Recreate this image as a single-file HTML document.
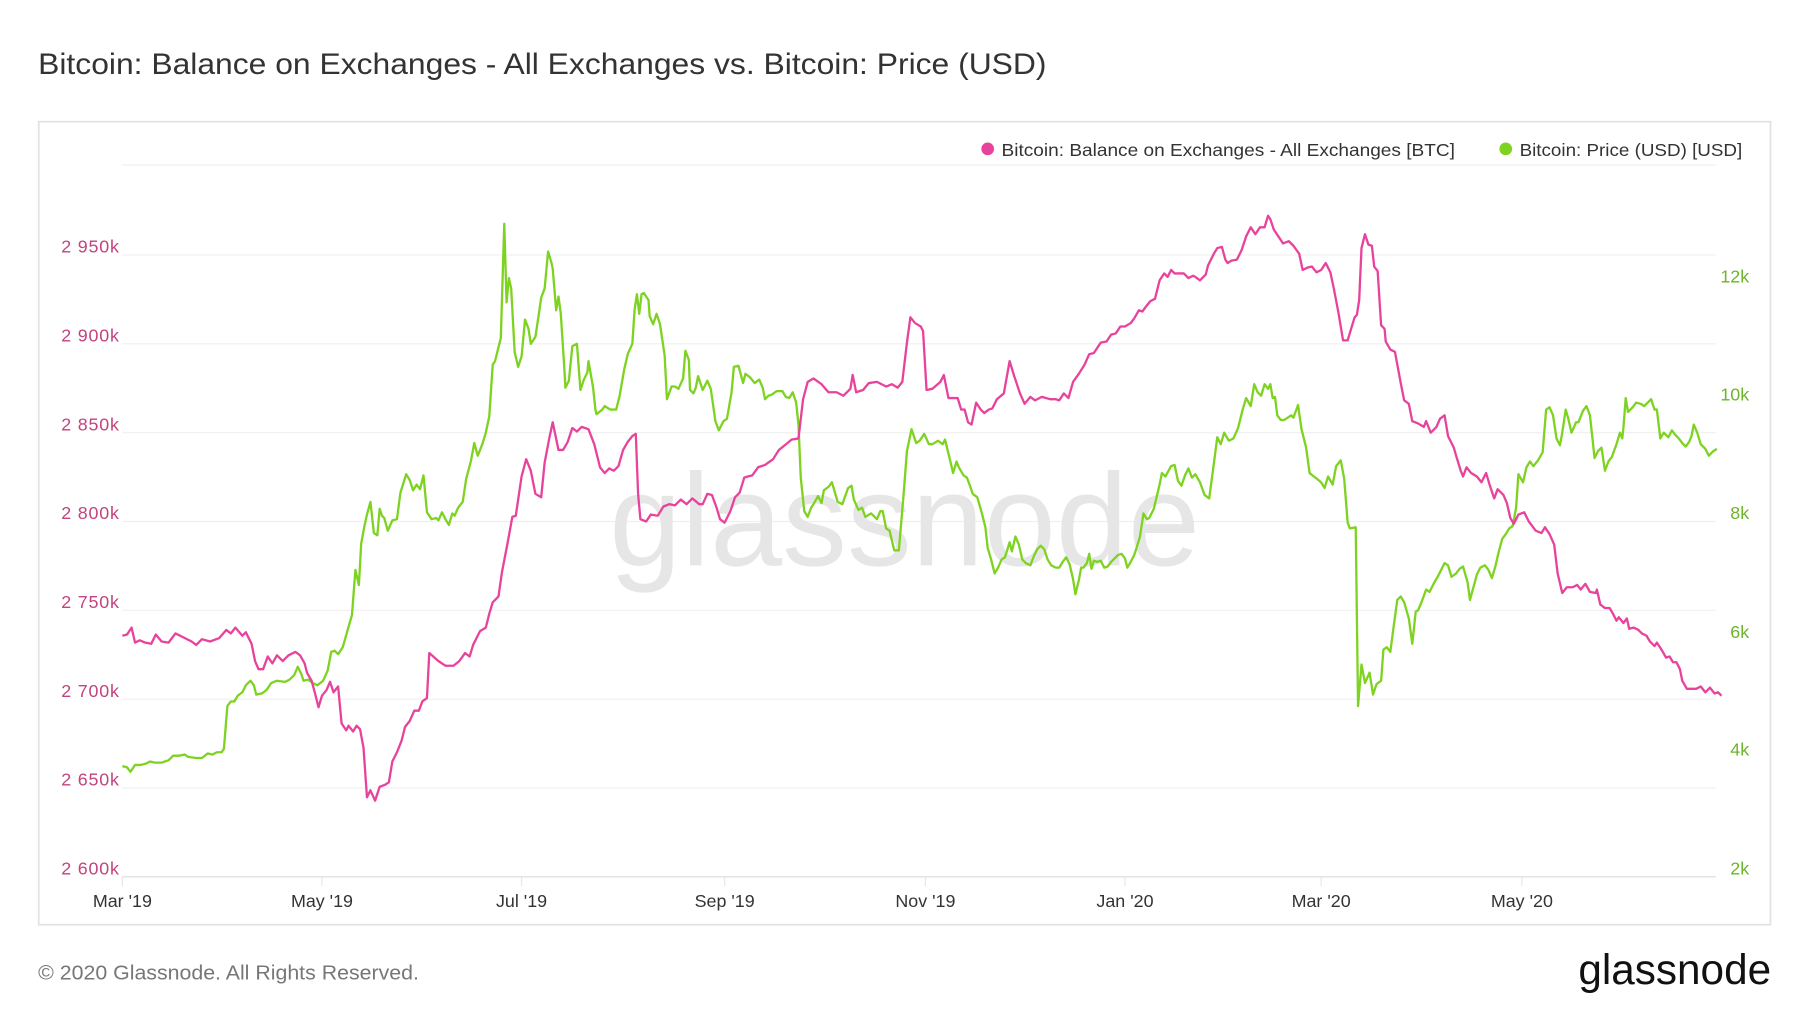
<!DOCTYPE html>
<html><head><meta charset="utf-8"><style>
html,body{margin:0;padding:0;background:#fff;}
svg{display:block;}
text{font-family:"Liberation Sans",sans-serif;}
</style></head><body>
<svg width="1800" height="1013" viewBox="0 0 1560 878" xmlns="http://www.w3.org/2000/svg">
<rect width="1560" height="878" fill="#fff"/>
<text x="33" y="64" font-size="26" fill="#333" textLength="874" lengthAdjust="spacingAndGlyphs">Bitcoin: Balance on Exchanges - All Exchanges vs. Bitcoin: Price (USD)</text>
<rect x="33.5" y="105.5" width="1501" height="696" fill="#fff" stroke="#e2e2e2" stroke-width="1.5"/>
<g stroke="#efefef" stroke-width="1">
<line x1="106" y1="143" x2="1487" y2="143"/>
<line x1="106" y1="221" x2="1487" y2="221"/>
<line x1="106" y1="298" x2="1487" y2="298"/>
<line x1="106" y1="375" x2="1487" y2="375"/>
<line x1="106" y1="452" x2="1487" y2="452"/>
<line x1="106" y1="529" x2="1487" y2="529"/>
<line x1="106" y1="606" x2="1487" y2="606"/>
<line x1="106" y1="683" x2="1487" y2="683"/>
</g>
<line x1="106" y1="760" x2="1487" y2="760" stroke="#e0e0e0" stroke-width="1.2"/>
<g stroke="#e6e6e6" stroke-width="1">
<line x1="106" y1="760" x2="106" y2="768"/><line x1="279" y1="760" x2="279" y2="768"/>
<line x1="452" y1="760" x2="452" y2="768"/><line x1="628" y1="760" x2="628" y2="768"/>
<line x1="802" y1="760" x2="802" y2="768"/><line x1="975" y1="760" x2="975" y2="768"/>
<line x1="1145" y1="760" x2="1145" y2="768"/><line x1="1319" y1="760" x2="1319" y2="768"/>
</g>
<text x="528" y="490" font-size="114" fill="#e6e6e6" textLength="512" lengthAdjust="spacingAndGlyphs">glassnode</text>
<g font-size="15.5" fill="#c2437f">
<text x="53" y="219" textLength="50">2 950k</text><text x="53" y="296" textLength="50">2 900k</text><text x="53" y="373" textLength="50">2 850k</text>
<text x="53" y="450" textLength="50">2 800k</text><text x="53" y="527" textLength="50">2 750k</text><text x="53" y="604" textLength="50">2 700k</text>
<text x="53" y="681" textLength="50">2 650k</text><text x="53" y="758" textLength="50">2 600k</text>
</g>
<g font-size="15.5" fill="#6db52a" text-anchor="end">
<text x="1516" y="245">12k</text><text x="1516" y="347">10k</text><text x="1516" y="450">8k</text>
<text x="1516" y="553">6k</text><text x="1516" y="655">4k</text><text x="1516" y="758">2k</text>
</g>
<g font-size="15.5" fill="#333" text-anchor="middle">
<text x="106" y="786">Mar '19</text><text x="279" y="786">May '19</text><text x="452" y="786">Jul '19</text>
<text x="628" y="786">Sep '19</text><text x="802" y="786">Nov '19</text><text x="975" y="786">Jan '20</text>
<text x="1145" y="786">Mar '20</text><text x="1319" y="786">May '20</text>
</g>
<circle cx="856" cy="129" r="5.5" fill="#e8439c"/>
<text x="868" y="135" font-size="15.5" fill="#333" textLength="393" lengthAdjust="spacingAndGlyphs">Bitcoin: Balance on Exchanges - All Exchanges [BTC]</text>
<circle cx="1305" cy="129" r="5.5" fill="#7ed321"/>
<text x="1317" y="135" font-size="15.5" fill="#333" textLength="193" lengthAdjust="spacingAndGlyphs">Bitcoin: Price (USD) [USD]</text>
<polyline fill="none" stroke="#7ed321" stroke-width="2" stroke-linejoin="round" points="106,664 110,665 113,669 117,663 122,663 126,662 130,660 134,661 140,661 146,659 150,655 155,655 160,654 163,656 170,657 175,657 180,653 184,654 188,652 192,652 194,649 197,612 200,608 203,608 206,603 210,600 213,594 217,590 220,594 222,602 227,601 231,598 235,592 240,590 247,591 251,589 255,585 258,578 261,584 263,590 267,589 271,592 275,594 280,590 284,581 287,565 290,564 293,567 297,561 301,547 305,533 308,494 311,507 313,471 316,455 318,446 321,435 324,462 327,464 329,441 331,447 333,449 336,460 340,451 344,450 347,427 352,411 355,416 358,425 361,420 364,424 367,412 370,444 374,450 378,449 380,451 383,444 386,450 389,455 392,445 394,447 397,440 401,435 404,415 408,400 411,384 414,395 418,385 421,375 424,361 427,316 429,313 431,305 434,293 437,194 439,262 441,241 443,250 446,305 449,318 452,309 455,277 458,285 460,298 464,292 467,272 469,258 472,250 475,218 478,228 479,233 482,269 484,257 486,272 489,318 490,336 493,330 496,300 500,298 503,338 506,329 509,323 510,313 514,336 516,355 517,359 522,355 524,352 529,355 534,355 537,343 541,320 544,307 548,298 550,268 552,255 554,272 556,255 558,254 562,260 563,274 566,281 569,272 572,281 576,308 578,346 582,335 585,335 588,337 592,328 594,304 597,312 598,338 601,341 603,336 605,326 609,338 613,330 616,337 617,344 620,365 623,373 627,365 630,363 634,340 636,318 640,317 644,332 646,324 650,327 654,332 658,329 661,336 663,346 666,343 669,342 673,339 678,339 681,344 684,345 687,340 690,349 692,368 694,414 697,443 700,448 703,440 705,437 709,430 712,436 714,425 718,422 721,418 726,435 730,437 735,423 738,421 740,433 744,442 747,440 750,448 755,445 760,450 763,443 765,443 768,458 771,460 775,477 779,477 783,430 786,391 790,372 794,384 797,382 801,376 805,385 808,385 813,382 817,385 819,381 822,393 826,410 829,400 831,405 835,412 838,414 841,422 843,428 847,431 849,438 851,445 854,457 856,475 859,485 862,497 865,492 868,485 871,483 875,470 877,478 880,465 883,472 886,485 889,488 893,490 896,482 899,476 902,473 905,476 908,485 911,490 915,492 918,492 921,487 924,483 927,489 930,502 932,515 935,503 937,492 939,492 942,488 944,480 946,493 948,486 951,487 954,486 957,492 960,491 963,487 966,484 969,481 972,480 975,484 977,492 980,487 983,481 985,475 988,465 991,445 994,450 996,449 1000,441 1005,420 1007,410 1010,413 1015,404 1018,403 1021,417 1024,421 1027,412 1030,406 1033,414 1036,411 1040,418 1044,429 1048,432 1052,402 1055,379 1058,385 1061,375 1065,382 1069,380 1073,371 1077,355 1080,345 1084,352 1087,333 1090,340 1093,343 1096,333 1099,337 1101,333 1103,345 1105,344 1107,360 1110,364 1113,364 1116,362 1119,360 1121,362 1125,351 1128,372 1132,388 1135,410 1140,414 1145,418 1148,423 1151,413 1155,420 1158,404 1162,399 1165,415 1168,453 1170,458 1175,457 1177,612 1180,576 1183,592 1187,583 1190,602 1193,593 1197,590 1199,563 1202,561 1205,565 1208,542 1211,520 1214,517 1217,522 1221,536 1224,558 1227,530 1229,529 1232,522 1236,511 1239,513 1243,505 1246,500 1249,494 1252,488 1255,490 1258,500 1262,497 1265,493 1268,491 1272,505 1274,520 1277,509 1280,498 1283,492 1287,490 1290,494 1293,501 1296,491 1299,478 1302,467 1305,463 1308,458 1311,456 1314,440 1316,411 1320,418 1323,405 1326,400 1329,404 1333,399 1337,392 1340,355 1343,353 1346,360 1349,380 1352,386 1354,375 1357,355 1359,362 1362,375 1366,366 1368,366 1372,356 1375,352 1378,360 1382,397 1385,391 1388,388 1391,408 1394,400 1397,396 1401,385 1404,375 1406,380 1407,371 1409,345 1411,357 1415,353 1418,349 1422,350 1425,352 1428,349 1431,346 1434,355 1436,355 1439,380 1442,375 1446,379 1449,373 1452,377 1455,380 1458,384 1461,387 1464,383 1466,378 1468,368 1471,375 1474,385 1478,389 1481,395 1485,391 1488,389"/>
<polyline fill="none" stroke="#e8439c" stroke-width="2" stroke-linejoin="round" points="106,551 110,550 114,544 117,557 121,555 126,557 131,558 135,550 140,556 146,557 152,549 160,553 166,556 170,559 175,554 182,556 190,553 196,546 200,549 204,544 210,551 213,548 218,558 221,573 224,580 228,580 232,569 236,575 240,568 245,573 250,568 256,565 260,568 264,575 266,583 270,590 273,601 276,613 279,603 283,598 286,591 289,600 293,595 296,627 300,633 302,629 306,634 309,629 312,632 315,648 318,691 321,685 325,694 329,682 334,680 337,678 340,660 344,652 348,642 351,630 355,625 359,616 363,616 366,608 370,605 372,566 380,573 386,577 393,577 398,573 403,566 407,569 410,559 416,547 421,544 424,532 427,522 432,517 435,496 440,470 444,448 447,447 452,413 456,398 460,408 464,428 469,431 472,401 476,380 479,366 484,390 488,390 492,383 496,371 500,374 504,370 510,372 515,385 520,405 524,410 528,406 532,408 536,404 540,390 544,383 548,378 551,376 553,428 555,450 560,452 564,446 570,447 575,439 580,437 585,438 590,433 595,437 600,432 606,437 609,437 613,428 617,429 621,440 624,450 628,453 633,443 637,431 641,427 645,414 648,413 652,412 657,405 663,403 670,398 675,390 680,386 686,381 692,380 696,346 700,331 705,328 712,333 718,340 725,340 731,343 737,337 739,325 742,340 748,338 753,332 760,331 768,335 773,333 778,336 782,331 786,297 789,275 793,280 798,283 800,287 803,338 808,337 815,331 818,325 822,345 826,345 830,345 833,355 836,355 839,366 842,368 846,349 850,355 853,358 857,355 860,354 864,346 870,341 875,313 879,326 884,341 888,350 893,344 897,347 903,344 910,346 915,346 918,347 922,341 926,345 930,331 935,324 940,316 944,307 948,306 954,297 959,296 963,290 967,289 971,283 975,283 980,280 983,276 987,269 990,270 993,266 997,261 1001,259 1005,243 1009,237 1012,240 1015,234 1018,237 1022,237 1026,237 1030,241 1034,239 1036,240 1040,243 1045,238 1047,230 1052,220 1055,215 1059,214 1062,225 1064,228 1067,226 1072,225 1076,217 1080,205 1084,197 1088,203 1092,197 1096,197 1099,187 1101,190 1104,199 1108,205 1112,211 1117,209 1121,213 1126,220 1129,234 1133,232 1137,231 1141,236 1145,234 1149,228 1153,236 1156,250 1160,271 1164,295 1168,295 1171,285 1174,275 1176,273 1178,260 1180,215 1183,203 1186,212 1189,213 1191,231 1194,235 1197,282 1200,285 1201,296 1205,303 1209,305 1214,332 1217,347 1221,350 1224,365 1229,367 1234,370 1236,365 1240,375 1245,370 1248,363 1252,360 1255,378 1260,388 1262,395 1266,408 1268,413 1271,405 1275,410 1280,413 1284,418 1288,410 1291,420 1295,432 1298,424 1303,429 1306,436 1309,449 1312,454 1316,446 1321,444 1325,452 1331,460 1336,462 1339,457 1343,463 1347,472 1350,497 1354,514 1358,509 1363,509 1367,507 1370,511 1374,506 1378,513 1383,514 1384,511 1387,524 1391,527 1395,527 1398,532 1401,538 1403,535 1407,540 1410,536 1412,545 1416,544 1420,546 1423,549 1427,551 1430,556 1434,560 1436,557 1440,563 1444,570 1447,569 1450,574 1453,574 1456,580 1458,590 1462,597 1470,597 1474,595 1478,600 1482,596 1486,601 1489,600 1492,603"/>
<text x="33" y="849" font-size="18" fill="#777" textLength="330" lengthAdjust="spacingAndGlyphs">© 2020 Glassnode. All Rights Reserved.</text>
<text x="1368" y="853" font-size="37" fill="#111" textLength="167" lengthAdjust="spacingAndGlyphs">glassnode</text>
</svg>
</body></html>
